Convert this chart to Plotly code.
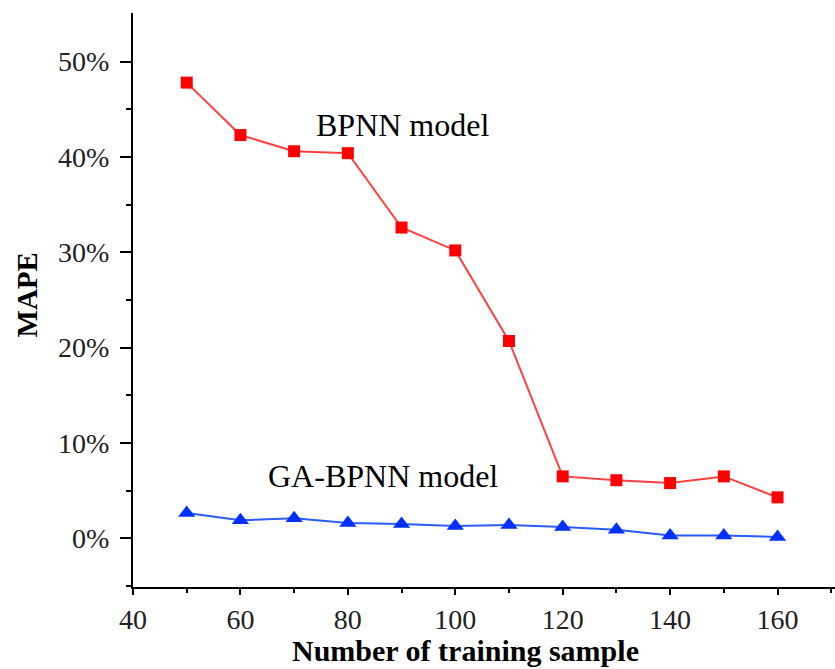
import plotly.graph_objects as go

# Number of training samples and MAPE (%) for each model
samples = [50, 60, 70, 80, 90, 100, 110, 120, 130, 140, 150, 160]
bpnn_mape = [47.8, 42.3, 40.6, 40.4, 32.6, 30.2, 20.7, 6.5, 6.1, 5.8, 6.5, 4.3]
ga_bpnn_mape = [2.65, 1.9, 2.1, 1.6, 1.5, 1.3, 1.4, 1.2, 0.9, 0.3, 0.3, 0.15]

y_ticks = [0, 10, 20, 30, 40, 50]
y_tick_labels = ["0%", "10%", "20%", "30%", "40%", "50%"]
x_ticks = [40, 60, 80, 100, 120, 140, 160]

FONT = "Liberation Serif, Times New Roman, serif"

fig = go.Figure()

fig.add_trace(go.Scatter(
    x=samples, y=bpnn_mape, mode="lines+markers", name="BPNN model",
    line=dict(color="#ff4040", width=2),
    marker=dict(symbol="square", size=12, color="#ff0000"),
))
fig.add_trace(go.Scatter(
    x=samples, y=ga_bpnn_mape, mode="lines+markers", name="GA-BPNN model",
    line=dict(color="#2a5cff", width=2),
    marker=dict(symbol="triangle-up", size=15, color="#0030ff"),
))

# Series labels placed beside the curves
fig.add_annotation(x=90.1, y=43.4, text="BPNN model", showarrow=False,
                   font=dict(family=FONT, size=32, color="black"))
fig.add_annotation(x=86.6, y=6.5, text="GA-BPNN model", showarrow=False,
                   font=dict(family=FONT, size=32, color="black"))

# Axis titles
fig.add_annotation(xref="paper", yref="paper", x=0.473, y=-0.142,
                   xanchor="center", yanchor="bottom",
                   text="<b>Number of training sample</b>", showarrow=False,
                   font=dict(family=FONT, size=30, color="black"))
fig.add_annotation(xref="paper", yref="paper", x=-0.1503, y=0.5087,
                   xanchor="center", yanchor="middle", textangle=-90,
                   text="<b>MAPE</b>", showarrow=False,
                   font=dict(family=FONT, size=29, color="black"))

fig.update_layout(
    width=835, height=669,
    margin=dict(l=133, r=0, t=13, b=82),
    paper_bgcolor="white", plot_bgcolor="white",
    showlegend=False,
    font=dict(family=FONT, color="#222222"),
)

fig.update_xaxes(
    range=[40, 170.7], tickvals=x_ticks,
    showgrid=False, zeroline=False,
    showline=True, linecolor="black", linewidth=2,
    ticks="outside", ticklen=6, tickwidth=2, tickcolor="black",
    tickfont=dict(family=FONT, size=28, color="#222222"),
    minor=dict(tickvals=[50, 70, 90, 110, 130, 150, 170], ticks="outside",
               ticklen=4, tickwidth=2, tickcolor="black"),
)

fig.update_yaxes(
    range=[-5.1, 55.1], tickvals=y_ticks, ticktext=y_tick_labels,
    showgrid=False, zeroline=False,
    showline=True, linecolor="black", linewidth=2,
    ticks="outside", ticklen=11, tickwidth=2, tickcolor="black",
    ticklabelstandoff=5,
    tickfont=dict(family=FONT, size=28, color="#222222"),
    minor=dict(tickvals=[-5, 5, 15, 25, 35, 45], ticks="outside",
               ticklen=5, tickwidth=2, tickcolor="black"),
)

fig.write_html("out.html")
